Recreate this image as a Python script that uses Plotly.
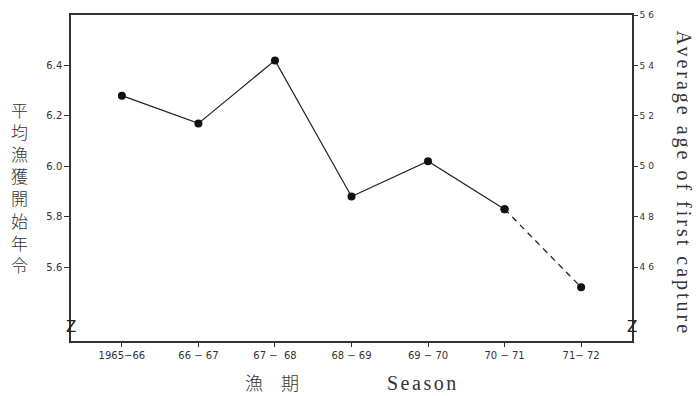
import plotly.graph_objects as go

# Seasons and average age at first capture (years)
seasons = ["1965-66", "66-67", "67-68", "68-69", "69-70", "70-71", "71-72"]
season_labels = ["1965\u221266", "66 \u2212 67", "67 \u2212  68", "68 \u2212 69",
                 "69 \u2212 70", "70 \u2212 71", "71\u2212 72"]
mean_age = [6.28, 6.17, 6.42, 5.88, 6.02, 5.83, 5.52]

left_ticks = [5.6, 5.8, 6.0, 6.2, 6.4]
left_ticktext = ["5.6", "5.8", "6.0", "6.2", "6.4"]
right_ticks = [4.6, 4.8, 5.0, 5.2, 5.4, 5.6]
right_ticktext = ["4 6", "4 8", "5 0", "5 2", "5 4", "5 6"]

y_range = [5.307, 6.6]
offset = 1.0  # right-hand scale is shifted by one year

ink = "#222222"
tick_font = dict(family="DejaVu Sans", size=10, color="#333333")

idx = list(range(len(seasons)))
n_solid = 6

fig = go.Figure()
fig.add_trace(go.Scatter(
    x=idx[:n_solid], y=mean_age[:n_solid], mode="lines+markers",
    line=dict(color=ink, width=1.2),
    marker=dict(color="#111111", size=8),
    showlegend=False, hoverinfo="skip"))
fig.add_trace(go.Scatter(
    x=idx[n_solid - 1:], y=mean_age[n_solid - 1:], mode="lines+markers",
    line=dict(color=ink, width=1.3, dash="6px,5px"),
    marker=dict(color="#111111", size=8),
    showlegend=False, hoverinfo="skip"))
# invisible trace to anchor the right-hand axis
fig.add_trace(go.Scatter(x=[idx[0]], y=[mean_age[0] - offset], yaxis="y2",
                         mode="markers", marker=dict(opacity=0),
                         showlegend=False, hoverinfo="skip"))

axis_line = dict(showline=True, linecolor="#333333", linewidth=1.5,
                 showgrid=False, zeroline=False)

fig.update_layout(
    width=696, height=396,
    margin=dict(l=71, r=64, t=10, b=55),
    paper_bgcolor="white", plot_bgcolor="white",
    xaxis=dict(**axis_line, mirror=True, range=[-0.665, 6.665],
               tickmode="array", tickvals=idx, ticktext=season_labels,
               ticks="outside", ticklen=4, tickwidth=1.2, tickcolor="#333333",
               tickfont=tick_font),
    yaxis=dict(**axis_line, range=y_range, tickmode="array",
               tickvals=left_ticks, ticktext=left_ticktext,
               ticks="outside", ticklen=5, tickwidth=1.2, tickcolor="#333333",
               tickfont=tick_font),
    yaxis2=dict(**axis_line, overlaying="y", side="right",
                range=[y_range[0] - offset, y_range[1] - offset],
                tickmode="array", tickvals=right_ticks, ticktext=right_ticktext,
                ticks="outside", ticklen=4, tickwidth=1.2, tickcolor="#333333",
                tickfont=dict(family="DejaVu Sans", size=9, color="#333333")),
)

plot_top, plot_bottom = 10, 341
plot_h = plot_bottom - plot_top
plot_w = 632 - 71


def py(px):
    return (plot_bottom - px) / plot_h


def pxx(px):
    return (px - 71) / plot_w


annotations = []

# vertical Japanese axis title, one character per line
jp_title = "平均漁獲開始年令"
annotations.append(dict(
    text="<br>".join(jp_title), xref="paper", yref="paper", x=pxx(19),
    y=py(185), showarrow=False, xanchor="center", yanchor="middle",
    font=dict(family="Noto Sans CJK JP", size=17, color="#333333",
              weight=300)))

# right-hand axis title
annotations.append(dict(
    text='<span style="letter-spacing:3px">Average age of first capture</span>',
    xref="paper", yref="paper", x=pxx(684), y=py(181),
    textangle=90, showarrow=False, xanchor="center", yanchor="middle",
    font=dict(family="Liberation Serif", size=20, color="#333333")))

# x-axis titles
annotations.append(dict(
    text="漁\u3000期", xref="paper", yref="paper", x=pxx(272),
    y=py(383), showarrow=False, xanchor="center", yanchor="middle",
    font=dict(family="Noto Sans CJK JP", size=18, color="#333333", weight=300)))
annotations.append(dict(
    text='<span style="letter-spacing:2.5px">Season</span>',
    xref="paper", yref="paper", x=pxx(423), y=py(384),
    showarrow=False, xanchor="center", yanchor="middle",
    font=dict(family="Liberation Serif", size=20, color="#333333")))

# axis break marks
for xb in (0, 1):
    annotations.append(dict(
        text="Z", xref="paper", yref="paper", x=xb, y=py(327),
        showarrow=False, xanchor="center", yanchor="middle",
        font=dict(family="DejaVu Sans", size=15, color="#222222")))

fig.update_layout(annotations=annotations)

fig.write_html("out.html")
